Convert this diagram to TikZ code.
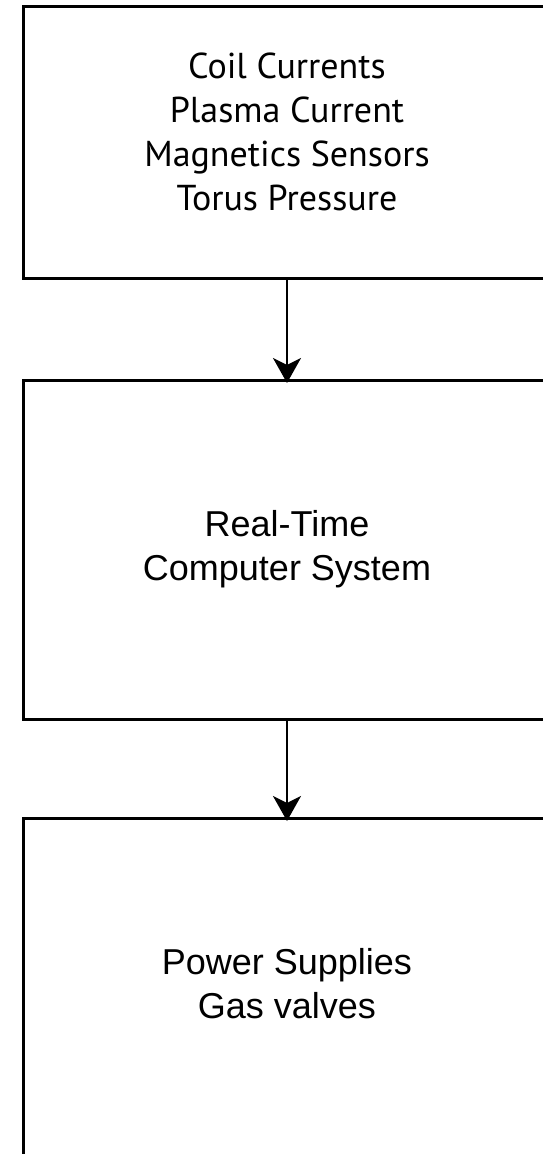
\documentclass[tikz,border=0pt]{standalone}
\usepackage{fontspec}
\setmainfont{Liberation Sans}
\newfontfamily\humsans{PT Sans}
\usetikzlibrary{arrows.meta}
\begin{document}
\begin{tikzpicture}[x=1pt,y=1pt,
  blockbox/.style={draw=black, line width=3pt, rectangle, minimum width=528pt, inner sep=0pt, outer sep=0pt},
  flowarrow/.style={line width=2.2pt, -{Stealth[length=25pt, width=28pt, inset=7pt]}, shorten >=-3pt},
  toptext/.style={font=\humsans\fontsize{36}{44}\selectfont, align=center, inner sep=0pt, anchor=base},
  lowtext/.style={font=\fontsize{36}{43.5}\selectfont, align=center, inner sep=0pt, anchor=base}]
\useasboundingbox (0,0) rectangle (543,-1154);
\clip (0,0) rectangle (543,-1154);
\fill[white] (0,0) rectangle (543,-1154);
\node[blockbox, minimum height=272pt] (sensors) at (287,-142.6) {};
\node[blockbox, minimum height=339pt] (rtcs) at (287,-549.5) {};
\node[blockbox, minimum height=340pt] (actuators) at (287,-988) {};
\node[toptext] (sensorstext) at (287,-210) {Coil Currents\\Plasma Current\\Magnetics Sensors\\Torus Pressure};
\node[lowtext] (rtcstext) at (287,-580) {Real-Time\\Computer System};
\node[lowtext] (actuatorstext) at (287,-1018) {Power Supplies\\Gas valves};
\draw[flowarrow] (sensors.south) -- (rtcs.north);
\draw[flowarrow] (rtcs.south) -- (actuators.north);
\end{tikzpicture}
\end{document}
